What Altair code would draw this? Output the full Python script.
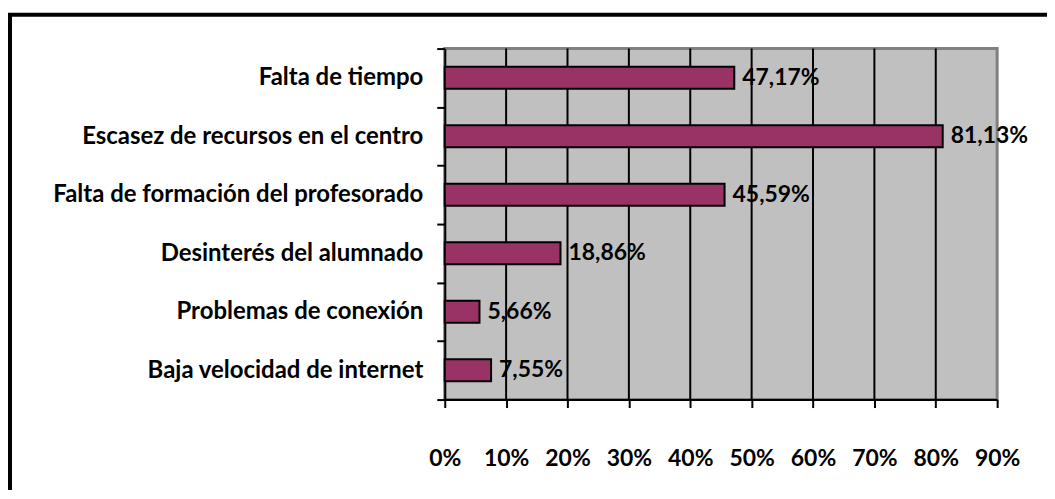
import altair as alt
import pandas as pd

CATEGORIES = [
    "Falta de tiempo",
    "Escasez de recursos en el centro",
    "Falta de formación del profesorado",
    "Desinterés del alumnado",
    "Problemas de conexión\u2002",
    "Baja velocidad de internet",
]
VALUES = [47.17, 81.13, 45.59, 18.86, 5.66, 7.55]
VALUE_LABELS = ["47,17%", "81,13%", "45,59%", "18,86%", "5,66%", "7,55%"]
X_TICKS = [0, 10, 20, 30, 40, 50, 60, 70, 80, 90]
GRID = [10, 20, 30, 40, 50, 60, 70, 80]

FONT = "Lato"
FS = 23
FS_Y = 24

df = pd.DataFrame({"cat": CATEGORIES, "val": VALUES, "lab": VALUE_LABELS})
grid_df = pd.DataFrame({"val": GRID})

xscale = alt.Scale(domain=[0, 90], nice=False, zero=True)
xaxis = alt.Axis(
    values=X_TICKS,
    labelExpr="datum.value + '%'",
    labelOverlap=False,
    labelFlush=False,
    labelAlign="center",
    grid=False,
    domainColor="black",
    domainWidth=2,
    tickColor="black",
    tickWidth=2,
    tickSize=8,
    labelPadding=40,
    labelFont=FONT,
    labelFontSize=FS,
    labelFontWeight="bold",
    labelColor="black",
    title=None,
)
yscale = alt.Scale(paddingInner=0, paddingOuter=0)
yaxis = alt.Axis(
    tickBand="extent",
    domainColor="black",
    domainWidth=2,
    tickColor="black",
    tickWidth=2,
    tickSize=8,
    labelPadding=14,
    labelFont=FONT,
    labelFontSize=FS_Y,
    labelFontWeight="bold",
    labelColor="black",
    labelLimit=500,
    title=None,
)

grid = alt.Chart(grid_df).mark_rule(color="black", strokeWidth=2).encode(
    x=alt.X("val:Q", scale=xscale, axis=xaxis)
)

bars = alt.Chart(df).mark_bar(
    size=22, color="#993366", stroke="black", strokeWidth=2
).encode(
    x=alt.X("val:Q", scale=xscale, axis=xaxis),
    y=alt.Y("cat:N", sort=CATEGORIES, scale=yscale, axis=yaxis),
)

text = alt.Chart(df).mark_text(
    align="left", baseline="middle", dx=8, font=FONT, fontSize=FS,
    fontWeight="bold", color="black"
).encode(
    x=alt.X("val:Q", scale=xscale, axis=xaxis),
    y=alt.Y("cat:N", sort=CATEGORIES, scale=yscale, axis=yaxis),
    text="lab:N",
)

border = alt.Chart(pd.DataFrame({"d": [0]})).mark_rect(
    fillOpacity=0, stroke="black", strokeWidth=4
).encode(
    x=alt.value(-436), x2=alt.value(700), y=alt.value(-34), y2=alt.value(520)
)

chart = alt.layer(grid, bars, text, border).properties(
    width=554,
    height=352,
    autosize=alt.AutoSizeParams(type="none"),
    padding={"left": 438, "top": 40, "right": 50, "bottom": 90},
    background="white",
).configure_view(
    fill="#C0C0C0", stroke="#808080", strokeWidth=3
)

chart.save("out.html", embed_options={"renderer": "svg", "actions": False})
